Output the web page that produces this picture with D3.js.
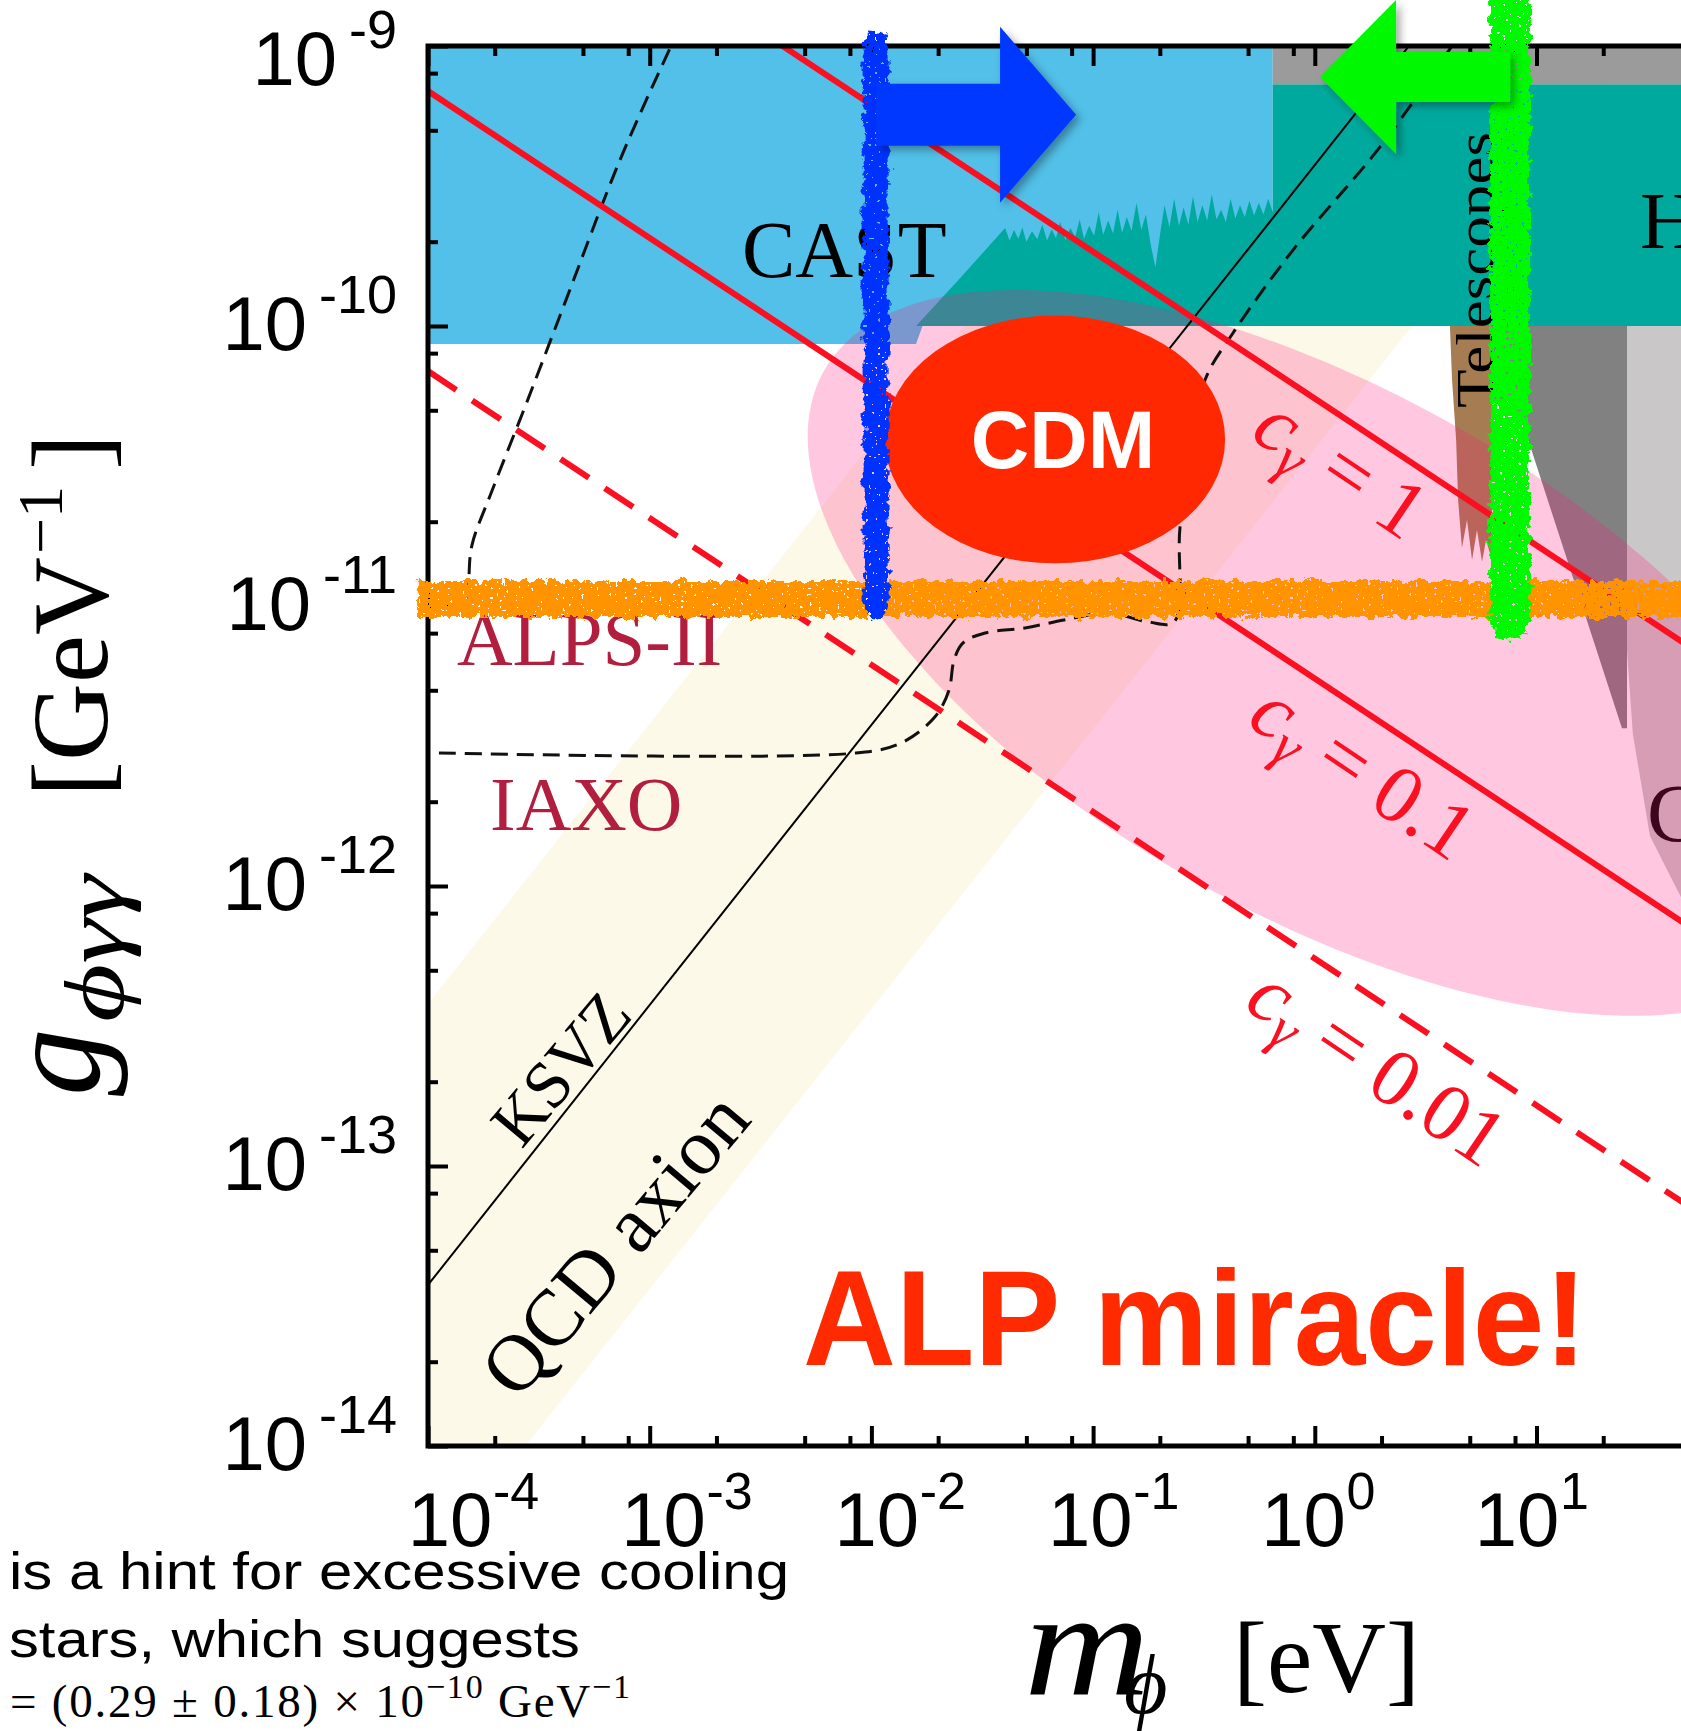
<!DOCTYPE html>
<html>
<head>
<meta charset="utf-8">
<script src="https://cdn.jsdelivr.net/npm/d3@7"></script>
<style>
  html, body { margin: 0; padding: 0; background: #fff; }
  svg { display: block; }
</style>
</head>
<body>
<svg id="chart" width="1681" height="1731"></svg>
<script>
// ---------- axis ticks ----------
const xMajor = [1e-4, 1e-3, 1e-2, 1e-1, 1, 10, 100];
const xLabelExp = [-4, -3, -2, -1, 0, 1];
const yMajor = [1e-9, 1e-10, 1e-11, 1e-12, 1e-13, 1e-14];
const yLabelExp = [-9, -10, -11, -12, -13, -14];
const minorMantissa = [2, 5, 8];

// ---------- excluded / projected regions, [m (eV), g (GeV^-1)] ----------
const castRegion = [[1e-4, 1e-9], [0.646, 1e-9], [0.646, 1.0e-10], [0.017, 1.0e-10], [0.0159, 8.63e-11], [1e-4, 8.63e-11]];
const haloscopeTop = [
  [0.0159, 1.0e-10], [0.0251, 1.48e-10], [0.0401, 2.24e-10], [0.042, 2.02e-10], [0.044, 2.20e-10],
  [0.046, 2.05e-10], [0.048, 2.25e-10], [0.050, 2.00e-10], [0.053, 2.18e-10], [0.056, 2.04e-10],
  [0.059, 2.30e-10], [0.062, 2.02e-10], [0.065, 2.21e-10], [0.068, 2.06e-10], [0.071, 2.35e-10],
  [0.075, 2.03e-10], [0.079, 2.24e-10], [0.083, 2.08e-10], [0.087, 2.40e-10], [0.091, 2.05e-10],
  [0.096, 2.28e-10], [0.101, 2.10e-10], [0.106, 2.55e-10], [0.111, 2.12e-10], [0.117, 2.38e-10],
  [0.123, 2.14e-10], [0.129, 2.60e-10], [0.135, 2.15e-10], [0.142, 2.45e-10], [0.149, 2.18e-10],
  [0.157, 2.75e-10], [0.165, 2.20e-10], [0.173, 2.50e-10], [0.182, 1.95e-10], [0.191, 1.62e-10],
  [0.200, 2.10e-10], [0.210, 2.70e-10], [0.221, 2.25e-10], [0.232, 2.85e-10], [0.244, 2.28e-10],
  [0.256, 2.65e-10], [0.269, 2.30e-10], [0.282, 2.90e-10], [0.296, 2.35e-10], [0.311, 2.70e-10],
  [0.327, 2.38e-10], [0.343, 2.95e-10], [0.360, 2.40e-10], [0.378, 2.60e-10], [0.397, 2.35e-10],
  [0.417, 2.85e-10], [0.438, 2.42e-10], [0.460, 2.70e-10], [0.483, 2.45e-10], [0.507, 2.80e-10],
  [0.532, 2.48e-10], [0.559, 2.75e-10], [0.587, 2.50e-10], [0.616, 2.85e-10], [0.646, 2.55e-10],
  [0.646, 7.3e-10], [1000, 7.3e-10], [1000, 1e-10]
];
const topGrayRegion = [[0.646, 1e-9], [1000, 1e-9], [1000, 7.3e-10], [0.646, 7.3e-10]];
const telescopeRegion = [
  [4.07, 1e-10], [6.30, 1e-10], [6.30, 1.46e-11], [5.92, 1.72e-11], [5.68, 1.44e-11], [5.39, 1.87e-11],
  [5.12, 1.46e-11], [4.86, 2.03e-11], [4.61, 1.61e-11], [4.43, 2.39e-11], [4.34, 3.92e-11], [4.16, 6.41e-11]
];
const darkGrayRegion = [[6.04, 1e-10], [25.6, 1e-10], [25.6, 3.66e-12], [24.3, 3.66e-12], [8.87, 4.25e-11], [7.60, 5.45e-11], [6.04, 5.45e-11]];
const lightGrayRegion = [[25.6, 1e-10], [154, 1e-10], [154, 8.9e-13], [44.8, 9.14e-13], [32.5, 1.51e-12], [27.2, 3.49e-12], [25.6, 6.97e-12]];
const qcdBand = [[1e-4, 3.8e-13], [0.263, 1e-9], [27.5, 1e-9], [2.75e-4, 1e-14], [1e-4, 1e-14]];

// ALP miracle window: centre, end of major axis, end of minor axis
const miracleEllipse = [[1.10, 6.8e-12], [198, 6.68e-13], [0.289, 1.04e-12]];
// CDM blob: mass span and coupling span
const cdmM = [0.0115, 0.394];
const cdmG = [1.42e-11, 1.09e-10];

// ---------- curves ----------
const ksvz = [[1e-4, 3.76e-14], [2.66, 1e-9]];
const iaxo = [
  [1.12e-4, 2.985e-12], [8.52e-3, 2.985e-12], [0.0136, 3.24e-12], [0.01936, 4.02e-12], [0.02239, 5.01e-12],
  [0.02359, 6.41e-12], [0.0259, 7.38e-12], [0.03254, 8.01e-12], [0.0493, 8.35e-12], [0.07392, 8.91e-12],
  [0.118, 9.44e-12], [0.1769, 8.77e-12], [0.2317, 8.77e-12], [0.2466, 1.91e-11], [0.2793, 3.61e-11],
  [0.3197, 6.41e-11], [0.4276, 9.44e-11], [0.797, 1.867e-10], [1.968, 4.36e-10], [4.157, 1e-9]
];
const lowMassDashed = [
  [1.531e-4, 1.05e-11], [1.531e-4, 1.28e-11], [1.579e-4, 1.65e-11], [1.944e-4, 2.58e-11],
  [2.826e-4, 5.48e-11], [4.194e-4, 1.24e-10], [7.345e-4, 3.92e-10], [1.248e-3, 1e-9]
];
const cgLineM = [1e-4, 1000];
const cg1 = [6.90e-9, 1.47e-12];
const cg01 = [6.90e-10, 1.47e-13];
const cg001 = [6.90e-11, 1.47e-14];

// ---------- hand-drawn marks ----------
const alpsBand = [[9.0e-5, 1.06e-11], [1000, 1.06e-11]];
const blueBand = [[0.0105, 1.0e-11], [0.0105, 1.02e-9]];
const greenBand = [[7.6, 8.9e-12], [7.6, 1.46e-9]];
const blueArrow = { from: [0.0105, 5.68e-10], to: [0.0838, 5.68e-10] };
const greenArrow = { from: [7.6, 7.75e-10], to: [1.056, 7.75e-10] };

// ================================================================
const W = 1681, H = 1731;
const svg = d3.select("#chart");
const x = d3.scaleLog().domain([1e-4, 1e3]).range([428, 428 + 7 * 221.7]);
const y = d3.scaleLog().domain([1e-14, 1e-9]).range([1446, 46]);
const xLab = d3.scaleLog().domain([1e-4, 10]).range([450, 1517]);

const SERIF = "'Liberation Serif', 'Times New Roman', serif";
const SANS = "'Liberation Sans', Arial, Helvetica, sans-serif";

const defs = svg.append("defs");
defs.append("clipPath").attr("id", "plot")
  .append("rect").attr("x", 428).attr("y", 46).attr("width", W - 428 + 60).attr("height", 1400);

const mk = defs.append("filter").attr("id", "marker")
  .attr("filterUnits", "userSpaceOnUse").attr("x", 0).attr("y", 0).attr("width", W).attr("height", H);
mk.append("feTurbulence").attr("type", "fractalNoise").attr("baseFrequency", "0.12")
  .attr("numOctaves", 3).attr("seed", 4).attr("result", "warp");
mk.append("feDisplacementMap").attr("in", "SourceGraphic").attr("in2", "warp").attr("scale", 13)
  .attr("xChannelSelector", "R").attr("yChannelSelector", "G").attr("result", "rough");
mk.append("feTurbulence").attr("type", "fractalNoise").attr("baseFrequency", "0.32")
  .attr("numOctaves", 1).attr("seed", 9).attr("result", "spk");
mk.append("feComponentTransfer").attr("in", "spk").attr("result", "holes")
  .append("feFuncA").attr("type", "discrete").attr("tableValues", "0 0 0 0 0 0 0 1 1 1");
mk.append("feComposite").attr("in", "rough").attr("in2", "holes").attr("operator", "out");

defs.append("filter").attr("id", "shadow").attr("x", "-20%").attr("y", "-20%").attr("width", "150%").attr("height", "150%")
  .append("feDropShadow").attr("dx", 4).attr("dy", 4).attr("stdDeviation", 4)
  .attr("flood-color", "#000").attr("flood-opacity", 0.35);

const line = d3.line().x(d => x(d[0])).y(d => y(d[1]));
const smooth = d3.line().x(d => x(d[0])).y(d => y(d[1])).curve(d3.curveCatmullRom.alpha(0.5));
const plot = svg.append("g").attr("clip-path", "url(#plot)");

// ---------- filled regions ----------
plot.append("path").attr("d", line(qcdBand) + "Z").attr("fill", "#FDF9E9");
plot.append("path").attr("d", line(castRegion) + "Z").attr("fill", "#52C0E8");
plot.append("path").attr("d", line(haloscopeTop) + "Z").attr("fill", "#00A99D");
plot.append("path").attr("d", line(topGrayRegion) + "Z").attr("fill", "#9B9B9B");
plot.append("path").attr("d", line(darkGrayRegion) + "Z").attr("fill", "#818181");
plot.append("path").attr("d", line(lightGrayRegion) + "Z").attr("fill", "#C9C7C7");
plot.append("path").attr("d", line(telescopeRegion) + "Z").attr("fill", "#A67C52");

plot.append("text").attr("x", 1640).attr("y", 248).attr("font-family", SERIF).attr("font-size", 80).text("H");
plot.append("text").attr("x", 1647).attr("y", 841).attr("font-family", SERIF).attr("font-size", 82).text("C");

// ALP miracle window (translucent)
{
  const [c, a, b] = miracleEllipse.map(p => [x(p[0]), y(p[1])]);
  const pts = d3.range(0, 361, 2).map(t => {
    const r = t * Math.PI / 180;
    return [c[0] + Math.cos(r) * (a[0] - c[0]) + Math.sin(r) * (b[0] - c[0]),
            c[1] + Math.cos(r) * (a[1] - c[1]) + Math.sin(r) * (b[1] - c[1])];
  });
  plot.append("path").attr("d", d3.line()(pts) + "Z")
    .attr("fill", "rgb(255,26,126)").attr("fill-opacity", 0.24);
}

// ---------- curves ----------
plot.append("path").attr("d", line(ksvz)).attr("fill", "none").attr("stroke", "#000").attr("stroke-width", 2);
plot.append("path").attr("d", smooth(iaxo)).attr("fill", "none").attr("stroke", "#111")
  .attr("stroke-width", 3).attr("stroke-dasharray", "17,9");
plot.append("path").attr("d", smooth(lowMassDashed)).attr("fill", "none").attr("stroke", "#111")
  .attr("stroke-width", 3).attr("stroke-dasharray", "17,9");

const cgLine = gs => cgLineM.map((m, i) => [m, gs[i]]);
plot.append("path").attr("d", line(cgLine(cg1))).attr("fill", "none").attr("stroke", "#FA1020").attr("stroke-width", 6);
plot.append("path").attr("d", line(cgLine(cg01))).attr("fill", "none").attr("stroke", "#FA1020").attr("stroke-width", 6);
plot.append("path").attr("d", line(cgLine(cg001))).attr("fill", "none").attr("stroke", "#FA1020")
  .attr("stroke-width", 6).attr("stroke-dasharray", "34,19");

// CDM blob
{
  const cx = (x(cdmM[0]) + x(cdmM[1])) / 2, cy = (y(cdmG[0]) + y(cdmG[1])) / 2;
  plot.append("ellipse").attr("cx", cx).attr("cy", cy)
    .attr("rx", (x(cdmM[1]) - x(cdmM[0])) / 2).attr("ry", (y(cdmG[0]) - y(cdmG[1])) / 2)
    .attr("fill", "#FF2800");
  plot.append("text").attr("x", cx + 8).attr("y", cy + 29).attr("text-anchor", "middle")
    .attr("font-family", SANS).attr("font-weight", "bold").attr("font-size", 81).attr("fill", "#fff").text("CDM");
}

// ---------- labels inside the plot ----------
svg.append("text").attr("x", 742).attr("y", 277).attr("font-family", SERIF).attr("font-size", 80).text("CAST");
svg.append("text").attr("x", 457).attr("y", 665).attr("font-family", SERIF).attr("font-size", 77).attr("fill", "#B21E3E").text("ALPS-II");
svg.append("text").attr("x", 490).attr("y", 830).attr("font-family", SERIF).attr("font-size", 77).attr("fill", "#B21E3E").text("IAXO");
svg.append("text").attr("transform", "translate(1493,408) rotate(-90)")
  .attr("font-family", SERIF).attr("font-size", 52).attr("textLength", 276).attr("lengthAdjust", "spacingAndGlyphs")
  .text("Telescopes");
svg.append("text").attr("transform", "translate(560,1068) rotate(-50)").attr("text-anchor", "middle").attr("dy", "0.35em")
  .attr("font-family", SERIF).attr("font-size", 67).text("KSVZ");
svg.append("text").attr("transform", "translate(614,1243) rotate(-50)").attr("text-anchor", "middle").attr("dy", "0.35em")
  .attr("font-family", SERIF).attr("font-size", 80).text("QCD axion");

function cgLabel(cx, cy, val) {
  const t = svg.append("text").attr("transform", `translate(${cx},${cy}) rotate(34)`)
    .attr("text-anchor", "middle").attr("dy", "0.3em")
    .attr("font-family", SERIF).attr("font-size", 82).attr("fill", "#FA1020");
  t.append("tspan").attr("font-style", "italic").text("c");
  t.append("tspan").attr("font-style", "italic").attr("font-size", 58).attr("dy", 14).text("γ");
  t.append("tspan").attr("dy", -14).text(" = " + val);
}
cgLabel(1340, 469, "1");
cgLabel(1362, 773, "0.1");
cgLabel(1376, 1068, "0.01");

svg.append("text").attr("x", 803).attr("y", 1365).attr("font-family", SANS).attr("font-weight", "bold")
  .attr("font-size", 136).attr("fill", "#FF2A00").attr("textLength", 784).attr("lengthAdjust", "spacingAndGlyphs")
  .text("ALP miracle!");

// ---------- axes ----------
const minorTicks = lo => {
  const out = [];
  for (let d = lo; d < 1e3 * 0.99; d *= 10) minorMantissa.forEach(k => out.push(d * k));
  return out;
};
const xMinor = minorTicks(1e-4);
const yMinor = minorTicks(1e-15).filter(v => v > 1e-14 && v < 1e-9);

function styleAxis(g) {
  g.select(".domain").remove();
  g.selectAll(".tick line").attr("stroke", "#000").attr("stroke-width", 4);
}
svg.append("g").attr("transform", "translate(0,1446)")
  .call(d3.axisBottom(x).tickValues(xMajor).tickSize(-20).tickFormat("")).call(styleAxis);
svg.append("g").attr("transform", "translate(0,1446)")
  .call(d3.axisBottom(x).tickValues(xMinor).tickSize(-10).tickFormat("")).call(styleAxis);
svg.append("g").attr("transform", "translate(0,46)")
  .call(d3.axisTop(x).tickValues(xMajor).tickSize(-20).tickFormat("")).call(styleAxis);
svg.append("g").attr("transform", "translate(0,46)")
  .call(d3.axisTop(x).tickValues(xMinor).tickSize(-10).tickFormat("")).call(styleAxis);
svg.append("g").attr("transform", "translate(428,0)")
  .call(d3.axisLeft(y).tickValues(yMajor).tickSize(-20).tickFormat("")).call(styleAxis);
svg.append("g").attr("transform", "translate(428,0)")
  .call(d3.axisLeft(y).tickValues(yMinor).tickSize(-10).tickFormat("")).call(styleAxis);

svg.append("path").attr("d", `M${W + 10},46H428V1446H${W + 10}`)
  .attr("fill", "none").attr("stroke", "#000").attr("stroke-width", 5).attr("stroke-linecap", "square");

// x tick labels
xLabelExp.forEach(e => {
  const cx = xLab(Math.pow(10, e));
  svg.append("text").attr("x", cx).attr("y", 1546).attr("text-anchor", "middle")
    .attr("font-family", SANS).attr("font-size", 76).text("10");
  svg.append("text").attr("x", cx + 43).attr("y", 1509)
    .attr("font-family", SANS).attr("font-size", 52).text(e < 0 ? "-" + (-e) : String(e));
});

// y tick labels
yLabelExp.forEach(e => {
  const cy = Math.max(y(Math.pow(10, e)) - 3, 58);
  const sup = svg.append("text").attr("x", 397).attr("y", cy - 10).attr("text-anchor", "end")
    .attr("font-family", SANS).attr("font-size", 54).text("-" + (-e));
  const w = sup.node().getComputedTextLength();
  svg.append("text").attr("x", 397 - w - 12).attr("y", cy + 27).attr("text-anchor", "end")
    .attr("font-family", SANS).attr("font-size", 76).text("10");
});

// axis titles
{
  const g = svg.append("g").attr("transform", "translate(107,0) rotate(-90)").attr("font-family", SERIF);
  g.append("text").attr("x", -1096).attr("y", -8).attr("font-size", 135).attr("font-style", "italic").text("g");
  g.append("text").attr("x", -1022).attr("y", 16).attr("font-size", 85).attr("font-style", "italic")
    .attr("textLength", 147).attr("lengthAdjust", "spacingAndGlyphs").text("ϕγγ");
  g.append("text").attr("x", -797).attr("y", 0).attr("font-size", 108).text("[GeV");
  g.append("text").attr("x", -554).attr("y", -45).attr("font-size", 64).text("−1");
  g.append("text").attr("x", -470).attr("y", 0).attr("font-size", 108).text("]");
}
svg.append("text").attr("x", 1024).attr("y", 1694).attr("font-family", SERIF).attr("font-size", 150)
  .attr("font-style", "italic").attr("textLength", 126).attr("lengthAdjust", "spacingAndGlyphs").text("m");
svg.append("text").attr("x", 1124).attr("y", 1713).attr("font-family", SERIF).attr("font-size", 84)
  .attr("font-style", "italic").text("ϕ");
svg.append("text").attr("x", 1233).attr("y", 1692).attr("font-family", SERIF).attr("font-size", 102).text("[eV]");

// text running in from the left margin
svg.append("text").attr("x", 9).attr("y", 1589).attr("font-family", SANS).attr("font-size", 52)
  .attr("textLength", 780).attr("lengthAdjust", "spacingAndGlyphs").text("is a hint for excessive cooling");
svg.append("text").attr("x", 9).attr("y", 1657).attr("font-family", SANS).attr("font-size", 52)
  .attr("textLength", 571).attr("lengthAdjust", "spacingAndGlyphs").text("stars, which suggests");
{
  const t = svg.append("text").attr("x", 10).attr("y", 1717).attr("font-family", SERIF).attr("font-size", 47)
    .attr("textLength", 620).attr("lengthAdjust", "spacing");
  t.append("tspan").text("= (0.29 ± 0.18) × 10");
  t.append("tspan").attr("font-size", 34).attr("dy", -19).text("−10");
  t.append("tspan").attr("dy", 19).text(" GeV");
  t.append("tspan").attr("font-size", 34).attr("dy", -19).text("−1");
}

// ---------- hand-drawn marker strokes ----------
svg.append("path").attr("d", line(alpsBand)).attr("stroke", "#FF9400").attr("stroke-width", 36)
  .attr("fill", "none").attr("filter", "url(#marker)");
svg.append("path").attr("d", line(blueBand)).attr("stroke", "#0633FF").attr("stroke-width", 25)
  .attr("fill", "none").attr("stroke-linecap", "round").attr("filter", "url(#marker)");
svg.append("path").attr("d", line(greenBand)).attr("stroke", "#00F800").attr("stroke-width", 40)
  .attr("fill", "none").attr("stroke-linecap", "round").attr("filter", "url(#marker)");

function arrow(spec, shaftHalf, headLen, headHalf, color) {
  const x0 = x(spec.from[0]), x1 = x(spec.to[0]), cy = y(spec.from[1]);
  const dir = Math.sign(x1 - x0);
  const xb = x1 - dir * headLen;
  const pts = [[x0, cy - shaftHalf], [xb, cy - shaftHalf], [xb, cy - headHalf], [x1, cy],
               [xb, cy + headHalf], [xb, cy + shaftHalf], [x0, cy + shaftHalf]];
  svg.append("path").attr("d", d3.line()(pts) + "Z").attr("fill", color).attr("filter", "url(#shadow)");
}
arrow(blueArrow, 31, 76, 88, "#0637FF");
arrow(greenArrow, 25, 76, 77, "#00F800");
</script>
</body>
</html>
